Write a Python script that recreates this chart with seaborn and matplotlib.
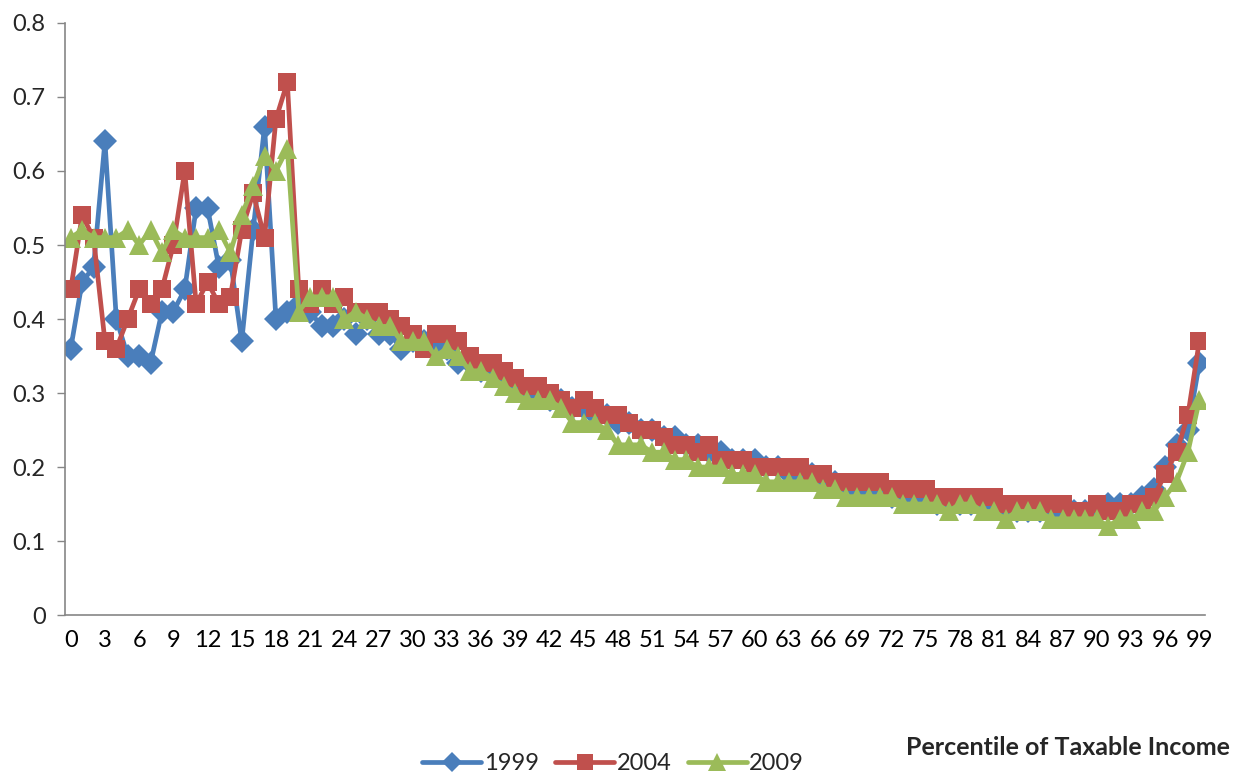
import numpy as np
import pandas as pd
import matplotlib
matplotlib.use("Agg")
import matplotlib.pyplot as plt
import seaborn as sns
from matplotlib.ticker import FixedLocator, FuncFormatter

# Percentile of taxable income (0..99)
percentiles = list(range(100))

rate_1999 = [
    0.36, 0.45, 0.47, 0.64, 0.40, 0.35, 0.35, 0.34, 0.41, 0.41,
    0.44, 0.55, 0.55, 0.47, 0.48, 0.37, 0.52, 0.66, 0.40, 0.41,
    0.42, 0.41, 0.39, 0.39, 0.40, 0.38, 0.40, 0.38, 0.38, 0.36,
    0.37, 0.37, 0.36, 0.36, 0.34, 0.34, 0.33, 0.33, 0.32, 0.31,
    0.30, 0.30, 0.29, 0.29, 0.28, 0.28, 0.27, 0.27, 0.26, 0.26,
    0.25, 0.25, 0.24, 0.24, 0.23, 0.23, 0.22, 0.22, 0.21, 0.21,
    0.21, 0.20, 0.20, 0.19, 0.19, 0.19, 0.18, 0.18, 0.17, 0.17,
    0.17, 0.17, 0.16, 0.16, 0.16, 0.16, 0.15, 0.15, 0.15, 0.15,
    0.15, 0.15, 0.14, 0.14, 0.14, 0.14, 0.14, 0.14, 0.14, 0.14,
    0.14, 0.15, 0.15, 0.15, 0.16, 0.17, 0.20, 0.23, 0.25, 0.34,
]

rate_2004 = [
    0.44, 0.54, 0.51, 0.37, 0.36, 0.40, 0.44, 0.42, 0.44, 0.50,
    0.60, 0.42, 0.45, 0.42, 0.43, 0.52, 0.57, 0.51, 0.67, 0.72,
    0.44, 0.42, 0.44, 0.42, 0.43, 0.41, 0.41, 0.41, 0.40, 0.39,
    0.38, 0.36, 0.38, 0.38, 0.37, 0.35, 0.34, 0.34, 0.33, 0.32,
    0.31, 0.31, 0.30, 0.29, 0.28, 0.29, 0.28, 0.27, 0.27, 0.26,
    0.25, 0.25, 0.24, 0.23, 0.23, 0.22, 0.23, 0.21, 0.21, 0.21,
    0.20, 0.20, 0.20, 0.20, 0.20, 0.19, 0.19, 0.18, 0.18, 0.18,
    0.18, 0.18, 0.17, 0.17, 0.17, 0.17, 0.16, 0.16, 0.16, 0.16,
    0.16, 0.16, 0.15, 0.15, 0.15, 0.15, 0.15, 0.15, 0.14, 0.14,
    0.15, 0.14, 0.14, 0.15, 0.15, 0.16, 0.19, 0.22, 0.27, 0.37,
]

rate_2009 = [
    0.51, 0.52, 0.51, 0.51, 0.51, 0.52, 0.50, 0.52, 0.49, 0.52,
    0.51, 0.51, 0.51, 0.52, 0.49, 0.54, 0.58, 0.62, 0.60, 0.63,
    0.41, 0.43, 0.43, 0.43, 0.40, 0.41, 0.40, 0.39, 0.39, 0.37,
    0.37, 0.37, 0.35, 0.36, 0.35, 0.33, 0.33, 0.32, 0.31, 0.30,
    0.29, 0.29, 0.29, 0.28, 0.26, 0.26, 0.26, 0.25, 0.23, 0.23,
    0.23, 0.22, 0.22, 0.21, 0.21, 0.20, 0.20, 0.20, 0.19, 0.19,
    0.19, 0.18, 0.18, 0.18, 0.18, 0.18, 0.17, 0.17, 0.16, 0.16,
    0.16, 0.16, 0.16, 0.15, 0.15, 0.15, 0.15, 0.14, 0.15, 0.15,
    0.14, 0.14, 0.13, 0.14, 0.14, 0.14, 0.13, 0.13, 0.13, 0.13,
    0.13, 0.12, 0.13, 0.13, 0.14, 0.14, 0.16, 0.18, 0.22, 0.29,
]

years = ["1999", "2004", "2009"]
colors = {"1999": "#4A7EBB", "2004": "#C0504D", "2009": "#9BBB59"}
markers = {"1999": "D", "2004": "s", "2009": "^"}
marker_sizes = {"1999": 12, "2004": 13, "2009": 15}

series = {"1999": rate_1999, "2004": rate_2004, "2009": rate_2009}
df = pd.concat(
    [pd.DataFrame({"percentile": percentiles, "rate": vals, "year": yr})
     for yr, vals in series.items()],
    ignore_index=True,
)

sns.set_style("white")
plt.rcParams["font.family"] = ["Lato", "DejaVu Sans"]

fig = plt.figure(figsize=(12.34, 7.74), dpi=100)
ax = fig.add_axes([0.0527, 0.2054, 0.9238, 0.7649])

for yr in years:
    sub = df[df["year"] == yr]
    sns.lineplot(
        data=sub, x="percentile", y="rate", ax=ax,
        color=colors[yr], linewidth=3.4, marker=markers[yr],
        markersize=marker_sizes[yr], markeredgewidth=0,
        label=yr, sort=False,
    )

ax.set_xlim(-0.5, 99.5)
ax.set_ylim(0, 0.8)

# Category ticks: labels every third percentile, tick marks between categories
ax.xaxis.set_major_locator(FixedLocator(list(range(0, 100, 3))))
ax.xaxis.set_minor_locator(FixedLocator(list(np.arange(-0.5, 100, 1.0))))
ax.tick_params(axis="x", which="major", length=0, pad=11, labelsize=17, colors="black")
ax.tick_params(axis="x", which="minor", length=6, width=1, color="#868686", direction="out")
ax.set_yticks(np.arange(0, 0.81, 0.1))
ax.yaxis.set_major_formatter(FuncFormatter(lambda v, p: f"{v:g}"))
ax.tick_params(axis="y", which="major", length=6, width=1, color="#868686",
               direction="out", labelsize=17, pad=8, left=True)

for side in ["top", "right"]:
    ax.spines[side].set_visible(False)
for side in ["left", "bottom"]:
    ax.spines[side].set_color("#868686")
    ax.spines[side].set_linewidth(1.2)

ax.set_xlabel("")
ax.set_ylabel("")

handles, labels = ax.get_legend_handles_labels()
if ax.legend_:
    ax.legend_.remove()
leg = fig.legend(
    handles, labels, loc="center", bbox_to_anchor=(0.497, 0.013),
    ncol=3, frameon=False, fontsize=17, handlelength=2.5,
    columnspacing=0.7, handletextpad=0.1, markerscale=0.85,
)

fig.text(0.9965, 0.0336, "Percentile of Taxable Income", ha="right", va="center",
         fontsize=18, fontweight="bold")

fig.savefig("out.png", dpi=100, facecolor="white")
